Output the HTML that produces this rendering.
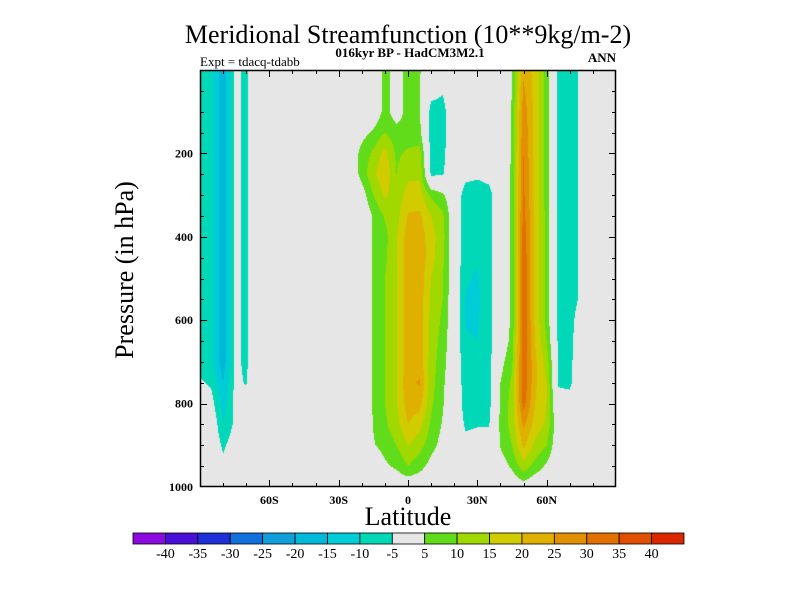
<!DOCTYPE html>
<html><head><meta charset="utf-8"><style>
body{margin:0;background:#fff;width:800px;height:600px;overflow:hidden}
svg text{font-family:"Liberation Serif",serif}
</style></head><body>
<svg id="chart" width="800" height="600" xmlns="http://www.w3.org/2000/svg">
<rect width="800" height="600" fill="#fff"/>
<text x="408" y="43" font-size="26" text-anchor="middle">Meridional Streamfunction (10**9kg/m-2)</text>
<text x="410" y="57" font-size="13" font-weight="bold" text-anchor="middle">016kyr BP - HadCM3M2.1</text>
<text x="200" y="66" font-size="13">Expt = tdacq-tdabb</text>
<text x="616" y="62" font-size="13" font-weight="bold" text-anchor="end">ANN</text>
<foreignObject x="200" y="70" width="416" height="417"><canvas xmlns="http://www.w3.org/1999/xhtml" id="field" width="416" height="417" style="display:block"></canvas></foreignObject>
<g id="axes"></g>
<text x="408" y="525" font-size="26" text-anchor="middle">Latitude</text>
<text transform="translate(133,270) rotate(-90)" font-size="26" text-anchor="middle">Pressure (in hPa)</text>
<g id="colorbar"></g>
</svg>
<script>
// Latitude nodes (deg) and pressure nodes (hPa)
const lats = [-90,-85,-80,-75,-70,-65,-60,-55,-50,-45,-40,-35,-30,-25,-20,-15,-10,-5,0,5,10,15,20,25,30,35,40,45,50,55,60,65,70,75,80,85,90];
const pressures = [0,50,100,150,200,250,300,350,400,450,500,550,600,650,700,750,800,850,900,950,1000];
const levels = [-40,-35,-30,-25,-20,-15,-10,-5,5,10,15,20,25,30,35,40];
const levelColors = ["#8a0ae0","#4a10d8","#2030d8","#1070dc","#10a0dc","#00b8d8","#00ccd8","#00d8b8","#e6e6e6","#60dc1a","#a0d800","#d0cc00","#e0b000","#e09000","#e07000","#e05000","#dc2800"];
const xTicks = [-60,-30,0,30,60];
const xTickLabels = ["60S","30S","0","30N","60N"];
const yTicks = [200,400,600,800,1000];
// Streamfunction values: one array per latitude node, values at each pressure node
const Z = [0,0,0,0,0,0,0,0,0,0,0,0,0,0,0,0,0,0,0,0,0];
const streamfn = [
/*-90*/[-7,-7,-7,-7,-7,-7,-7,-7,-7,-7,-7,-7,-7,-7,-7,-4.2,0,0,0,0,0],
/*-85*/[-9,-9,-9,-9,-9,-9,-9,-9,-9,-9,-9,-9,-9,-9,-9,-6,-3,0,0,0,0],
/*-80*/[-18,-18,-18,-18,-18,-18,-18,-18,-18,-18,-18,-18,-18,-18,-18,-15,-12,-9.8,-6,-3.5,0],
/*-75*/[-4,-4,-4,-4,-4,-4,-4,-4,-4,-4,-4,-4,-4,-4,-4,-4,-4,-4,-2,0,0],
/*-70*/[-5.8,-5.8,-5.8,-5.8,-5.8,-5.8,-5.8,-5.8,-5.8,-5.8,-5.8,-5.8,-5.8,-5.8,-5.8,-5.3,-3,0,0,0,0],
/*-65*/Z,/*-60*/Z,/*-55*/Z,/*-50*/Z,/*-45*/Z,/*-40*/Z,/*-35*/Z,/*-30*/Z,/*-25*/Z,
/*-20*/[0,0,0,3,7,7,2,0,0,0,0,0,0,0,0,0,0,0,0,0,0],
/*-15*/[0,0,0,6,11,14,10,5.5,5.5,5.5,5.5,5.5,5.5,5.5,5.5,5.5,5.5,5.3,4.5,0,0],
/*-10*/[7,7,7,10,17,19,16,10.5,8.5,9,10,10,10,10,10,10,10,9,7,4,0],
/*-5*/ [2,2,2,7,9,10,12,13,14.5,14.5,14.5,14.5,14.5,14.5,14.5,14.5,14.5,13,10,6,0],
/*0*/  [7,7,7,7,11,14,17,20.5,22.5,22.5,22.5,22.5,22.5,22.5,22.5,24,22.5,20,15,10,0],
/*5*/  [5.5,5.5,5.5,6.5,12,14,17,21,23,23.5,23,23,23,23,23,25.5,22,17,12,7,0],
/*10*/ [0,-3,-7,-7.5,-7,-6,9,15,17,17,15,14,13.5,13,12.5,12,11,9,7,3,0],
/*15*/ [0,-4.5,-7,-7,-6.5,-5.5,6,11,12,11,10.5,10,9,8,7,6,5.5,4.5,3,0,0],
/*20*/ Z,
/*25*/ [0,0,0,0,0,-3,-8,-8,-8.5,-9,-9.5,-10.5,-10.5,-9.5,-9,-8,-7.5,-6,-3,0,0],
/*30*/ [0,0,0,0,0,-4,-8,-8,-8.5,-9.5,-10.5,-11,-10.5,-10,-9,-8,-7,-5.5,-2,0,0],
/*35*/ [0,0,0,0,0,-3,-7,-7,-7,-7,-7,-7,-7,-7,-7,-7,-7,-5.5,-2,0,0],
/*40*/ [0,0,0,0,0,0,0,0,0,0,0,0,0,0,3,5,6,6,5.5,2,0],
/*45*/ [4.5,5,5.5,5.5,5.5,6,6,6,6,6,6,6,6,7,9,11,12,12,10,6,0],
/*50*/ [24,26,28,29,30,31,31,32,33,34,34,34,34,34,34,34,32,26,21,13,2],
/*55*/ [18,18,18,18,18,18,18,19,19,19,19,19,19,20,21,21,20,18,14,8,0],
/*60*/ [8,8,8,8,8,8,8,8,8,8,8,8,8,10,13,15,15,14,10,4,0],
/*65*/ [-6.5,-6.5,-6.5,-6.5,-6.5,-6.5,-6.5,-6.5,-6.5,-6.5,-6.5,-6.5,-6,-6,-5.8,-5.5,-3,0,0,0,0],
/*70*/ [-9.5,-9.5,-9.5,-9.5,-9.5,-9.5,-9.5,-9.5,-9.5,-9.5,-9.5,-9.5,-8,-7,-6.5,-6,-3,0,0,0,0],
/*75*/ [-3,-3,-3,-3,-3,-3,-3,-3,-3,-3,-3,-3,0,0,0,0,0,0,0,0,0],
/*80*/Z,/*85*/Z,/*90*/Z
];
const X0=200,X1=616,Y0=70,Y1=487;
const xScale = lat => X0 + (lat+90)/180*(X1-X0);
const yScale = p => Y0 + p/1000*(Y1-Y0);
const NS='http://www.w3.org/2000/svg';
function colorIndex(v){let i=0;for(const t of levels){if(v>=t)i++;}return i;}
function hex(c){return [parseInt(c.substr(1,2),16),parseInt(c.substr(3,2),16),parseInt(c.substr(5,2),16)];}
// draw field
const cv=document.getElementById('field'),ctx=cv.getContext('2d');
const W=cv.width,H=cv.height,img=ctx.createImageData(W,H);
const rgb=levelColors.map(hex);
const dLat=lats[1]-lats[0],dP=pressures[1]-pressures[0];
for(let py=0;py<H;py++){
  const p=(py+0.5)/H*1000;
  let j=Math.min(Math.floor((p-pressures[0])/dP),pressures.length-2);const fy=(p-pressures[j])/dP;
  for(let px=0;px<W;px++){
    const lat=-90+(px+0.5)/W*180;
    let i=Math.min(Math.floor((lat-lats[0])/dLat),lats.length-2);const fx=(lat-lats[i])/dLat;
    const v=(streamfn[i][j]*(1-fx)+streamfn[i+1][j]*fx)*(1-fy)+(streamfn[i][j+1]*(1-fx)+streamfn[i+1][j+1]*fx)*fy;
    const c=rgb[colorIndex(v)];const k=(py*W+px)*4;
    img.data[k]=c[0];img.data[k+1]=c[1];img.data[k+2]=c[2];img.data[k+3]=255;
  }
}
ctx.putImageData(img,0,0);
// axes
const ax=document.getElementById('axes');
function line(x1,y1,x2,y2,name){const l=document.createElementNS(NS,'line');l.setAttribute('x1',x1);l.setAttribute('y1',y1);l.setAttribute('x2',x2);l.setAttribute('y2',y2);l.setAttribute('stroke','#000');l.setAttribute('stroke-width','1');


ax.appendChild(l);}
function text(x,y,s,anchor,size,bold,name,parent){const t=document.createElementNS(NS,'text');t.setAttribute('x',x);t.setAttribute('y',y);t.setAttribute('font-size',size);t.setAttribute('text-anchor',anchor);if(bold)t.setAttribute('font-weight','bold');t.textContent=s;


parent.appendChild(t);}
const frame=document.createElementNS(NS,'rect');
frame.setAttribute('x',X0+0.5);frame.setAttribute('y',Y0+0.5);frame.setAttribute('width',X1-X0-1);frame.setAttribute('height',Y1-Y0-1);frame.setAttribute('fill','none');frame.setAttribute('stroke','#000');frame.setAttribute('stroke-width','1.5');


ax.appendChild(frame);
for(let lat=-80;lat<=80;lat+=10){const x=Math.round(xScale(lat))+0.5;const len=xTicks.includes(lat)?7:4;
  line(x,Y1,x,Y1-len,'x-tick');line(x,Y0,x,Y0+len,'x-tick-top');}
xTicks.forEach((t,k)=>text(xScale(t),Y1+17,xTickLabels[k],'middle',12,true,'x-tick-label',ax));
for(let p=50;p<1000;p+=50){const y=Math.round(yScale(p))+0.5;const len=(p%200===0)?7:4;
  line(X0,y,X0+len,y,'y-tick');line(X1,y,X1-len,y,'y-tick-right');}
yTicks.forEach(t=>text(193,yScale(t)+4,String(t),'end',12,true,'y-tick-label',ax));
// colorbar
const cb=document.getElementById('colorbar');
const CB0=133,CB1=684,CBY=533,CBH=11,bw=(CB1-CB0)/levelColors.length;
levelColors.forEach((c,k)=>{const r=document.createElementNS(NS,'rect');r.setAttribute('x',CB0+k*bw);r.setAttribute('y',CBY);r.setAttribute('width',bw);r.setAttribute('height',CBH);r.setAttribute('fill',c);r.setAttribute('stroke','#000');r.setAttribute('stroke-width','0.8');


cb.appendChild(r);});
levels.forEach((l,k)=>text(CB0+(k+1)*bw,CBY+25,String(l),'middle',14,false,'colorbar-label',cb));
</script>
</body></html>
